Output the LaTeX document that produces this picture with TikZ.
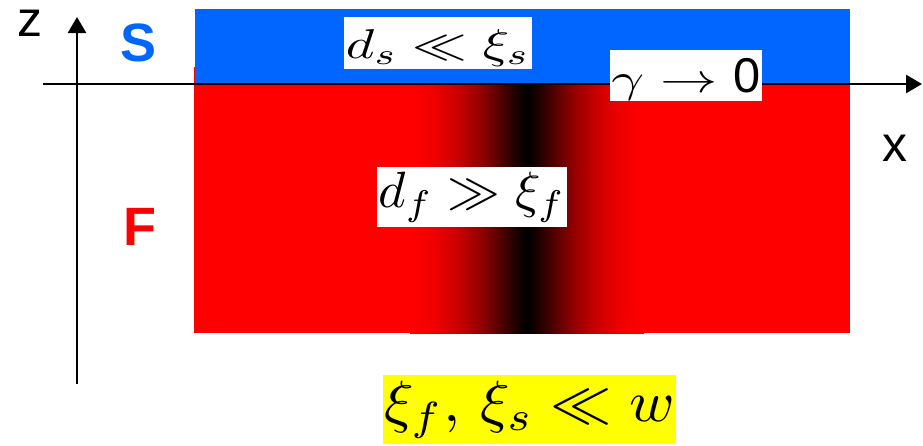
\documentclass[tikz,border=0pt]{standalone}
\usepackage{fontspec}
\usepackage{graphicx}
\newfontfamily\arialf{Liberation Sans}
\usetikzlibrary{arrows.meta}
\definecolor{sblue}{RGB}{0,102,255}
\definecolor{fred}{RGB}{255,0,0}
\definecolor{yel}{RGB}{255,255,0}
\pgfdeclarehorizontalshading{domainwall}{100bp}{color(0bp)=(fred); color(25bp)=(fred); color(30bp)=(fred!94!black); color(35bp)=(fred!80!black); color(40bp)=(fred!58!black); color(45bp)=(fred!28!black); color(47.5bp)=(fred!12!black); color(50bp)=(black); color(52.5bp)=(fred!12!black); color(55bp)=(fred!28!black); color(60bp)=(fred!58!black); color(65bp)=(fred!80!black); color(70bp)=(fred!94!black); color(75bp)=(fred); color(100bp)=(fred)}
\tikzset{
  axisline/.style={line width=2.6pt, -{Triangle[length=16pt,width=18pt]}},
  mbox/.style={fill=white, inner sep=0pt, rectangle},
  ybox/.style={fill=yel, inner sep=0pt, rectangle},
  axlabel/.style={inner sep=0pt, font=\arialf\fontsize{50}{60}\selectfont},
  layerlabel/.style={inner sep=0pt, font=\arialf\bfseries\fontsize{54}{64}\selectfont}
}
\begin{document}
\begin{tikzpicture}[x=1pt,y=-1pt]
\useasboundingbox (0,0) rectangle (923,445);
% layers
\fill[fred] (194,67) rectangle (850,332.5);
\shade[shading=domainwall] (410,83) rectangle (644,333.5);
\fill[sblue] (195,9) rectangle (850,83.5);
% axes
\coordinate (zb) at (77,384);
\coordinate (zt) at (77,17);
\coordinate (xb) at (43,84);
\coordinate (xt) at (922,84);
\draw[axisline] (zb) -- (zt);
\draw[axisline] (xb) -- (xt);
% labels
\node[axlabel] (zl) at (29.5,23.5) {z};
\node[axlabel] (xl) at (894.5,148.5) {x};
\node[layerlabel, text=sblue] (sl) at (139,43) {S};
\node[layerlabel, text=fred] (fl) at (140,226.5) {F};
% math boxes
\node[mbox, minimum width=188pt, minimum height=52pt] (ds) at (438,43)
  {\raisebox{-5pt}[\height][\depth]{\resizebox*{184pt}{37pt}{$d_s\ll\xi_s$}}};
\node[mbox, minimum width=152pt, minimum height=51pt] (gam) at (686,75.5)
  {\raisebox{-3.5pt}[\height][\depth]{\resizebox*{149pt}{42pt}{$\gamma\rightarrow\mbox{\scalebox{0.85}[1.2]{\arialf 0}}$}}};
\node[mbox, minimum width=190pt, minimum height=60pt] (df) at (472,197)
  {\resizebox*{187pt}{50pt}{$d_f\gg\xi_f$}};
\node[ybox, minimum width=293pt, minimum height=69pt] (cond) at (529.5,409.5)
  {\resizebox*{290pt}{57pt}{$\xi_f,\,\xi_s\ll w$}};
\end{tikzpicture}
\end{document}
